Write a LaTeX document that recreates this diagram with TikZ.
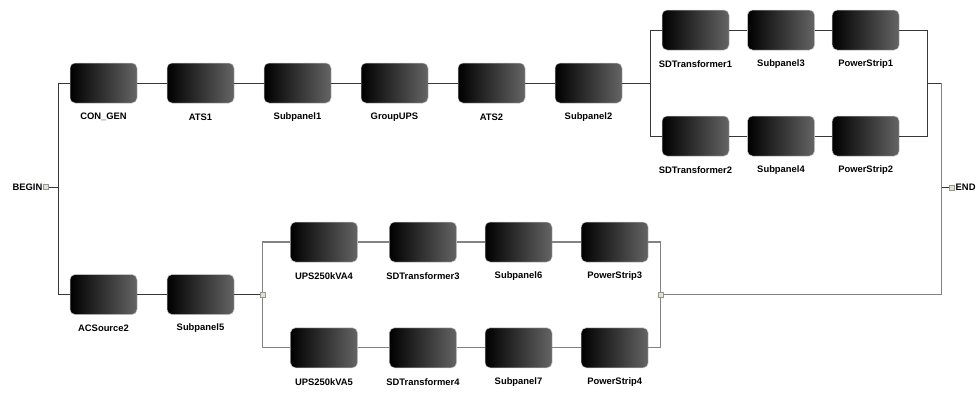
\documentclass[tikz,border=0pt]{standalone}
\usepackage{fontspec}
\setmainfont{Liberation Sans}
\definecolor{boxright}{RGB}{100,100,100}
\definecolor{boxedge}{RGB}{200,200,200}
\definecolor{darkline}{RGB}{55,55,55}
\definecolor{grayline}{RGB}{130,130,130}
\definecolor{sqfill}{RGB}{225,225,215}
\definecolor{sqedge}{RGB}{150,150,140}
\begin{document}
\begin{tikzpicture}[x=1pt,y=-1pt,
  blk/.style={rectangle, rounded corners=5pt, minimum width=67pt, minimum height=40pt,
    inner sep=0pt, left color=black, right color=boxright, draw=boxedge, line width=0.5pt},
  lbl/.style={font=\bfseries\fontsize{9.4}{11}\selectfont, inner sep=0pt},
  lnA/.style={draw=darkline, line width=0.9pt},
  lnB/.style={draw=grayline, line width=1.1pt},
  sq/.style={rectangle, minimum size=5pt, inner sep=0pt, fill=sqfill, draw=sqedge, line width=0.5pt}
]
\useasboundingbox (0,0) rectangle (978,392);

% top main row
\foreach \n/\x/\t in {cg/103.5/CON\_GEN, ats1/200.5/ATS1, sp1/297.5/Subpanel1, gups/394.5/GroupUPS, ats2/491.5/ATS2, sp2/588.5/Subpanel2}{
  \node[blk] (\n) at (\x,83) {};
  \node[lbl] (\n-l) at (\x,117) {\t};
}
% top right group
\foreach \n/\x/\y/\t in {sdt1/695.5/30/SDTransformer1, sp3/781/30/Subpanel3, ps1/865.7/30/PowerStrip1,
  sdt2/695.5/136/SDTransformer2, sp4/781/136/Subpanel4, ps2/865.7/136/PowerStrip2}{
  \node[blk] (\n) at (\x,\y) {};
  \node[lbl] (\n-l) at (\x,\y+34) {\t};
}
% bottom left
\foreach \n/\x/\t in {acs/103.5/ACSource2, sp5/200.5/Subpanel5}{
  \node[blk] (\n) at (\x,294.5) {};
  \node[lbl] (\n-l) at (\x,328) {\t};
}
% bottom right group
\foreach \n/\x/\y/\t in {ups4/324/242/UPS250kVA4, sdt3/423/242/SDTransformer3, sp6/518.5/242/Subpanel6, ps3/614.7/242/PowerStrip3,
  ups5/324/347.8/UPS250kVA5, sdt4/423/347.8/SDTransformer4, sp7/518.5/347.8/Subpanel7, ps4/614.7/347.8/PowerStrip4}{
  \node[blk] (\n) at (\x,\y) {};
  \node[lbl] (\n-l) at (\x,\y+34) {\t};
}

% BEGIN / END
\node[sq] (bsq) at (46,187) {};
\node[lbl, anchor=east] (begin) at (42.5,187) {BEGIN};
\node[sq] (esq) at (951.7,187.7) {};
\node[lbl, anchor=west] (endl) at (955.5,187.7) {END};

\coordinate (bv) at (58,187);
\coordinate (tsplit) at (650.7,83);
\coordinate (tjoin) at (927.7,83);
\coordinate (ev) at (941.7,83);
\coordinate (eend) at (941.7,187.7);
\coordinate (bsplit) at (262.3,294.5);
\coordinate (bjoin) at (660.7,294.5);
\coordinate (ebot) at (941.7,294.5);

% lines
\draw[lnA] (bsq) -- (bv);
\draw[lnA] (bv) |- (cg);
\draw[lnA] (bv) |- (acs);
\draw[lnA] (cg) -- (ats1);
\draw[lnA] (ats1) -- (sp1);
\draw[lnA] (sp1) -- (gups);
\draw[lnA] (gups) -- (ats2);
\draw[lnA] (ats2) -- (sp2);
\draw[lnA] (sp2) -- (tsplit);
\draw[lnA] (tsplit) |- (sdt1);
\draw[lnA] (tsplit) |- (sdt2);
\draw[lnA] (sdt1) -- (sp3);
\draw[lnA] (sp3) -- (ps1);
\draw[lnA] (sdt2) -- (sp4);
\draw[lnA] (sp4) -- (ps2);
\draw[lnA] (ps1) -| (tjoin);
\draw[lnA] (ps2) -| (tjoin);
\draw[lnA] (tjoin) -- (ev);
\draw[lnB] (ev) -- (ebot);
\draw[lnA] (eend) -- (esq);

\draw[lnA] (acs) -- (sp5);
\draw[lnA] (sp5) -- (bsplit);
\draw[lnB] (bsplit) |- (ups4);
\draw[lnB] (bsplit) |- (ups5);
\draw[lnB] (ups4) -- (sdt3);
\draw[lnB] (sdt3) -- (sp6);
\draw[lnB] (sp6) -- (ps3);
\draw[lnB] (ups5) -- (sdt4);
\draw[lnB] (sdt4) -- (sp7);
\draw[lnB] (sp7) -- (ps4);
\draw[lnB] (ps3) -| (bjoin);
\draw[lnB] (ps4) -| (bjoin);
\draw[lnB] (bjoin) -- (ebot);
\node[sq] (bsplitsq) at (bsplit) {};
\node[sq] (bjoinsq) at (bjoin) {};
\end{tikzpicture}
\end{document}
